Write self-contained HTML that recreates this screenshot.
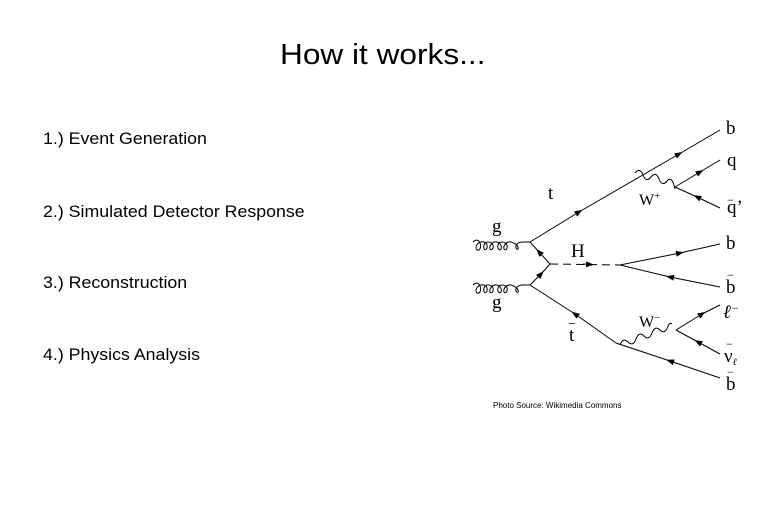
<!DOCTYPE html>
<html><head><meta charset="utf-8"><style>
html,body{margin:0;padding:0;background:#fff;}
body{width:765px;height:510px;position:relative;overflow:hidden;font-family:"Liberation Sans",Arial,sans-serif;}
.t{position:absolute;white-space:nowrap;color:#000;transform-origin:0 0;}
.l{font-size:17px;line-height:20px;transform:scaleX(1.045);}
</style></head><body>
<div class="t" style="left:280px;top:38px;font-size:29px;line-height:34px;transform:scaleX(1.09);">How it works...</div>
<div class="t l" style="left:43px;top:129px;">1.) Event Generation</div>
<div class="t l" style="left:43px;top:202px;">2.) Simulated Detector Response</div>
<div class="t l" style="left:43px;top:273px;">3.) Reconstruction</div>
<div class="t l" style="left:43px;top:345px;">4.) Physics Analysis</div>
<svg width="765" height="510" style="position:absolute;left:0;top:0" xmlns="http://www.w3.org/2000/svg">
<defs><marker id="a" markerWidth="8" markerHeight="6" refX="4" refY="3" orient="auto"><path d="M0,0 L8,3 L0,6 z" fill="#000"/></marker>
<path id="gl" d="M0,0 C3,-3 6,-2 7,1 C9,6 6,9 4,8 C2,7 3,1 8,0 C12,-1 15,2 14,6 C13,9 10,8 11,3 C12,-1 18,-1 20,3 C21,7 18,9 17,7 C16,4 19,-1 24,0 C28,1 29,5 28,7 C27,9 24,7 25,3 C26,-1 32,-1 34,3 C35,7 32,9 31,7 C30,4 33,-1 38,0 C42,1 44,3 45,5 C46,8 44,8 43,6 C42,3 45,0 50,0 L57,0"/></defs>
<g stroke="#000" stroke-width="1" fill="none">
<use href="#gl" x="473" y="242"/>
<use href="#gl" x="473" y="285"/>
<path d="M530,242 L579,212" marker-end="url(#a)"/><path d="M579,212 L679,154" marker-end="url(#a)"/><path d="M679,154 L720,130"/>
<path d="M550,264 L539,252" marker-end="url(#a)"/><path d="M539,252 L530,242"/>
<path d="M530,285 L541,274" marker-end="url(#a)"/><path d="M541,274 L550,264"/>
<path d="M550,264 L620,265" stroke-dasharray="8,5"/>
<path d="M583,264 L590,264.5" marker-end="url(#a)"/>
<path d="M620,265 L680,253" marker-end="url(#a)"/><path d="M680,253 L720,244"/>
<path d="M720,287 L670,277" marker-end="url(#a)"/><path d="M670,277 L620,265"/>
<path d="M635,173 q5,-6 8,2 q3,8 8,2 q5,-6 8,2 q3,8 8,2 q5,-6 8,8"/>
<path d="M675,187 L700,172" marker-end="url(#a)"/><path d="M700,172 L720,160"/>
<path d="M720,208 L697,197" marker-end="url(#a)"/><path d="M697,197 L675,187"/>
<path d="M616,343 L575,314" marker-end="url(#a)"/><path d="M575,314 L530,285"/>
<path d="M720,378 L670,361" marker-end="url(#a)"/><path d="M670,361 L616,343"/>
<path d="M620,345 q3,-8 8,-3 q5,5 8,-3 q3,-8 8,-3 q5,5 8,-3 q3,-8 8,-3 q5,5 8,-4 q2,-4 4,-2"/>
<path d="M676,330 L702,314" marker-end="url(#a)"/><path d="M702,314 L720,305"/>
<path d="M720,354 L698,342" marker-end="url(#a)"/><path d="M698,342 L676,330"/>
</g>
<g font-family="Liberation Serif,serif" font-size="19" fill="#000">
<text x="492" y="232">g</text><text x="492" y="308">g</text>
<text x="548" y="199">t</text><text x="571" y="257">H</text>
<text x="569" y="341">t</text><text x="568" y="328" font-size="14">−</text>
<text x="639" y="205" font-size="16">W<tspan font-size="11" dy="-6">+</tspan></text>
<text x="639" y="327" font-size="16">W<tspan font-size="11" dy="-6">−</tspan></text>
<text x="726" y="134">b</text><text x="727" y="166">q</text><text x="727" y="213">q’</text><text x="727" y="204" font-size="12">−</text>
<text x="726" y="249">b</text><text x="726" y="293">b</text><text x="727" y="279" font-size="12">−</text>
<text x="723" y="318" font-style="italic">ℓ<tspan font-size="12" dy="-6">−</tspan></text>
<text x="724" y="362">ν<tspan font-size="10" dy="3" font-style="italic">ℓ</tspan></text><text x="726" y="348" font-size="12">−</text>
<text x="726" y="390">b</text><text x="727" y="376" font-size="12">−</text>
</g>
<text x="493" y="408" font-family="Liberation Sans,sans-serif" font-size="8" fill="#000">Photo Source: Wikimedia Commons</text>
</svg>
</body></html>
